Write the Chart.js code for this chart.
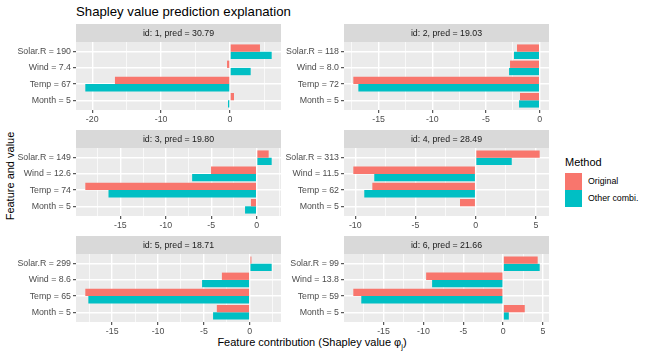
<!DOCTYPE html>
<html>
<head>
<meta charset="utf-8">
<script src="https://cdn.jsdelivr.net/npm/chart.js@4"></script>
<style>
  body { margin: 0; background: #fff; font-family: "Liberation Sans", Arial, sans-serif; }
  #wrap { position: relative; width: 648px; height: 360px; overflow: hidden; }
  #wrap canvas { position: absolute; }
  .txt { position: absolute; white-space: nowrap; line-height: 1; }
  #title { left: 76px; top: 5px; font-size: 13.2px; color: #000; }
  #ytitle { left: 10px; top: 176px; font-size: 11px; color: #000; transform: translate(-50%, -50%) rotate(-90deg); }
  #xtitle { left: 312px; top: 344px; font-size: 11px; color: #000; transform: translate(-50%, -50%); }
  #xtitle sub { font-size: 7.5px; }
  #legend-title { left: 565px; top: 157px; font-size: 11px; color: #000; }
  .key { position: absolute; left: 565px; width: 17px; height: 17px; }
  .key-label { left: 588px; font-size: 8.8px; color: #000; }
</style>
</head>
<body>
<div id="wrap">
  <div class="txt" id="title">Shapley value prediction explanation</div>
  <div class="txt" id="ytitle">Feature and value</div>
  <div class="txt" id="xtitle">Feature contribution (Shapley value φ<sub>j</sub>)</div>
  <div class="txt" id="legend-title">Method</div>
  <div class="key" style="top:173px; background:#F8766D"></div>
  <div class="key" style="top:190px; background:#00BFC4"></div>
  <div class="txt key-label" style="top:177px">Original</div>
  <div class="txt key-label" style="top:194px">Other combi.</div>
</div>
<script>
// --- 1. Data ---
const features = ['Solar.R', 'Wind', 'Temp', 'Month'];
const panelIds = [1, 2, 3, 4, 5, 6];
const predictions = ['30.79', '19.03', '19.80', '28.49', '18.71', '21.66'];
const featureValues = [
    ['190', '7.4', '67', '5'],
    ['118', '8.0', '72', '5'],
    ['149', '12.6', '74', '5'],
    ['313', '11.5', '62', '5'],
    ['299', '8.6', '65', '5'],
    ['99', '13.8', '59', '5']
];
const originalPhi = [
    [4.35, -0.43, -16.7, 0.58],
    [-2.11, -2.76, -17.35, -1.83],
    [1.32, -5.02, -18.85, -0.63],
    [5.32, -10.16, -8.58, -1.3],
    [0.18, -3.04, -17.93, -3.59],
    [4.33, -9.66, -18.79, 2.71]
];
const otherCombiPhi = [
    [6.05, 3.0, -21.0, -0.29],
    [-2.39, -2.85, -16.88, -1.92],
    [1.65, -7.1, -16.3, -1.28],
    [3.0, -8.42, -9.25, -0.06],
    [2.39, -5.2, -17.6, -4.0],
    [4.58, -8.91, -17.79, 0.71]
];
const xTicks = [
    [-20, -10, 0],
    [-15, -10, -5, 0],
    [-15, -10, -5, 0],
    [-10, -5, 0, 5],
    [-15, -10, -5, 0],
    [-15, -10, -5, 0, 5]
];

const RED = '#F8766D';
const TEAL = '#00BFC4';
const FONT = '"Liberation Sans", Arial, sans-serif';

Chart.defaults.font.family = FONT;

// --- 2. Panel background + strip (ggplot look) ---
const panelBackground = {
    id: 'panelBackground',
    beforeDraw(chart, args, opts) {
        const { ctx, chartArea: a } = chart;
        ctx.save();
        ctx.fillStyle = '#EBEBEB';
        ctx.fillRect(a.left, a.top, a.right - a.left, a.bottom - a.top);
        ctx.fillStyle = '#D9D9D9';
        ctx.fillRect(a.left, 0, a.right - a.left, a.top);
        ctx.fillStyle = '#1A1A1A';
        ctx.font = '8.8px ' + FONT;
        ctx.textAlign = 'center';
        ctx.textBaseline = 'middle';
        ctx.fillText(opts.text, (a.left + a.right) / 2, a.top / 2 + 0.5);
        ctx.restore();
    }
};

// --- 3. Build the six facets ---
function makePanel(i) {
    const col = i % 2, row = Math.floor(i / 2);
    const canvas = document.createElement('canvas');
    canvas.width = 285;
    canvas.height = 102;
    canvas.style.left = (col ? 268 : 0) + 'px';
    canvas.style.top = (24 + 106 * row) + 'px';
    document.getElementById('wrap').appendChild(canvas);

    // ggplot style limits: data incl. 0, expanded 5% each side
    const all = originalPhi[i].concat(otherCombiPhi[i], [0]);
    const lo = Math.min(...all), hi = Math.max(...all);
    const pad = (hi - lo) * 0.05;
    const xmin = lo - pad, xmax = hi + pad;

    const majors = xTicks[i];
    const step = majors[1] - majors[0];
    let grid = [];
    majors.forEach(v => grid.push(v, v + step / 2));
    grid.push(majors[0] - step / 2);
    grid = grid.filter(v => v >= xmin && v <= xmax).sort((a, b) => a - b);

    const labels = features.map((f, k) => `${f} = ${featureValues[i][k]}`);

    new Chart(canvas, {
        type: 'bar',
        data: {
            datasets: [
                { label: 'Original', data: originalPhi[i].map((v, k) => ({ x: v, y: k + 1 })), backgroundColor: RED },
                { label: 'Other combi.', data: otherCombiPhi[i].map((v, k) => ({ x: v, y: k + 1 })), backgroundColor: TEAL }
            ]
        },
        options: {
            indexAxis: 'y',
            responsive: false,
            animation: false,
            events: [],
            layout: { padding: { top: 18, right: 4, left: 0, bottom: 0 } },
            datasets: { bar: { categoryPercentage: 0.9, barPercentage: 1.0, borderWidth: 0 } },
            plugins: {
                legend: { display: false },
                tooltip: { enabled: false },
                panelBackground: { text: `id: ${panelIds[i]}, pred = ${predictions[i]}` }
            },
            scales: {
                x: {
                    type: 'linear',
                    min: xmin,
                    max: xmax,
                    offset: false,
                    afterBuildTicks: s => { s.ticks = grid.map(v => ({ value: v })); },
                    afterFit: s => { s.height = 16; },
                    border: { display: false },
                    grid: {
                        offset: false,
                        color: '#FFFFFF',
                        lineWidth: c => (c.tick && majors.includes(c.tick.value)) ? 1.4 : 0.7,
                        tickColor: c => (c.tick && majors.includes(c.tick.value)) ? '#333333' : 'rgba(0,0,0,0)',
                        tickLength: 3,
                        tickWidth: 1
                    },
                    ticks: {
                        callback: v => majors.includes(v) ? String(v) : '',
                        color: '#4D4D4D',
                        font: { size: 8.8 },
                        padding: 1,
                        autoSkip: false,
                        maxRotation: 0
                    }
                },
                y: {
                    type: 'linear',
                    min: 0.4,
                    max: 4.6,
                    reverse: true,
                    offset: false,
                    afterBuildTicks: s => { s.ticks = features.map((f, k) => ({ value: k + 1 })); },
                    afterFit: s => { s.width = 76; },
                    border: { display: false },
                    grid: { offset: false, color: '#FFFFFF', lineWidth: 1.4, tickColor: '#333333', tickLength: 3, tickWidth: 1 },
                    ticks: {
                        callback: v => labels[v - 1],
                        color: '#4D4D4D',
                        font: { size: 8.8 },
                        padding: 2,
                        autoSkip: false
                    }
                }
            }
        },
        plugins: [panelBackground]
    });
}

panelIds.forEach((id, i) => makePanel(i));
</script>
</body>
</html>
